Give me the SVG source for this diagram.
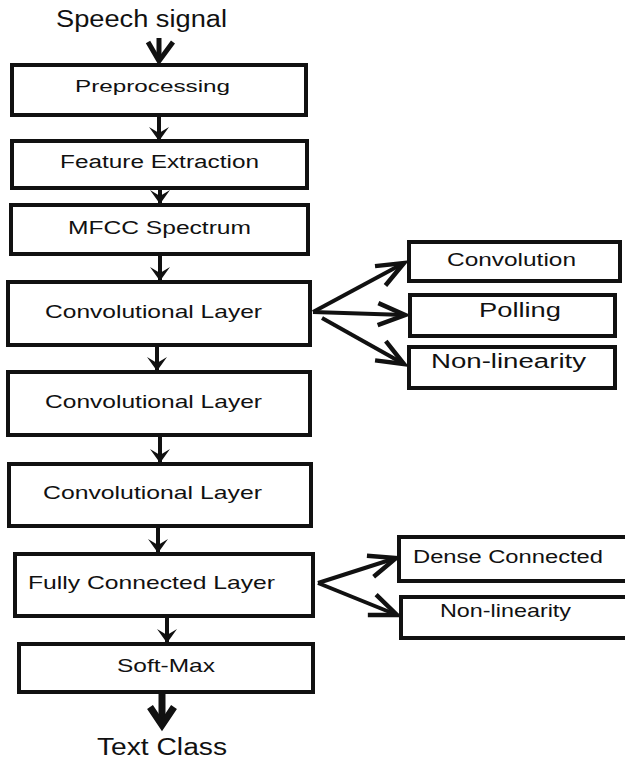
<svg xmlns="http://www.w3.org/2000/svg" width="625" height="760" viewBox="0 0 625 760">
<style>
.box{fill:#fff;stroke:#111;stroke-width:4}
.t{font-family:"Liberation Sans",Arial,sans-serif;fill:#111}
.c{stroke:#111;stroke-width:4;fill:none}
.big{stroke:#111;fill:none;stroke-linejoin:miter}
</style>
<defs>
<marker id="fill" markerUnits="userSpaceOnUse" viewBox="-16 -12 18 24" refX="0" refY="0" markerWidth="18" markerHeight="24" orient="auto">
<path d="M-14,-10 L0,0 L-14,10 L-8,0 z" fill="#111"/>
</marker>
<marker id="open" markerUnits="userSpaceOnUse" viewBox="-32 -14 36 28" refX="0" refY="0" markerWidth="36" markerHeight="28" orient="auto">
<path d="M-27,-11 L0,0 L-27,11" fill="none" stroke="#111" stroke-width="4.5"/>
</marker>
</defs>
<rect width="625" height="760" fill="#fff"/>
<text class="t" x="56" y="27" font-size="23" textLength="171" lengthAdjust="spacingAndGlyphs">Speech signal</text>
<text class="t" x="97" y="755" font-size="23" textLength="130" lengthAdjust="spacingAndGlyphs">Text Class</text>

<g id="node-preprocessing">
<rect class="box" x="12" y="65" width="294" height="50"/>
<text class="t" x="75" y="92" font-size="17" textLength="155" lengthAdjust="spacingAndGlyphs">Preprocessing</text>
</g>
<g id="node-feature">
<rect class="box" x="12" y="141" width="295" height="47"/>
<text class="t" x="60" y="168" font-size="18" textLength="199" lengthAdjust="spacingAndGlyphs">Feature Extraction</text>
</g>
<g id="node-mfcc">
<rect class="box" x="11" y="205" width="297" height="49"/>
<text class="t" x="68" y="234" font-size="18" textLength="183" lengthAdjust="spacingAndGlyphs">MFCC Spectrum</text>
</g>
<g id="node-conv1">
<rect class="box" x="8" y="282" width="302" height="63"/>
<text class="t" x="45" y="318" font-size="19" textLength="217" lengthAdjust="spacingAndGlyphs">Convolutional Layer</text>
</g>
<g id="node-conv2">
<rect class="box" x="8" y="372" width="302" height="63"/>
<text class="t" x="45" y="408" font-size="19" textLength="217" lengthAdjust="spacingAndGlyphs">Convolutional Layer</text>
</g>
<g id="node-conv3">
<rect class="box" x="9" y="464" width="302" height="62"/>
<text class="t" x="43" y="499" font-size="19" textLength="219" lengthAdjust="spacingAndGlyphs">Convolutional Layer</text>
</g>
<g id="node-fc">
<rect class="box" x="15" y="554" width="298" height="62"/>
<text class="t" x="28" y="589" font-size="19" textLength="247" lengthAdjust="spacingAndGlyphs">Fully Connected Layer</text>
</g>
<g id="node-softmax">
<rect class="box" x="19" y="644" width="294" height="48"/>
<text class="t" x="117" y="672" font-size="19" textLength="98" lengthAdjust="spacingAndGlyphs">Soft-Max</text>
</g>
<g id="node-convolution">
<rect class="box" x="409" y="242" width="211" height="39"/>
<text class="t" x="447" y="266" font-size="19" textLength="129" lengthAdjust="spacingAndGlyphs">Convolution</text>
</g>
<g id="node-polling">
<rect class="box" x="410" y="295" width="205" height="41"/>
<text class="t" x="479" y="317" font-size="20" textLength="82" lengthAdjust="spacingAndGlyphs">Polling</text>
</g>
<g id="node-nonlin1">
<rect class="box" x="409" y="347" width="206" height="41"/>
<text class="t" x="431" y="368" font-size="20" textLength="155" lengthAdjust="spacingAndGlyphs">Non-linearity</text>
</g>
<g id="node-dense">
<rect class="box" x="399" y="537" width="232" height="44"/>
<text class="t" x="413" y="563" font-size="18" textLength="190" lengthAdjust="spacingAndGlyphs">Dense Connected</text>
</g>
<g id="node-nonlin2">
<rect class="box" x="401" y="597" width="232" height="41"/>
<text class="t" x="440" y="617" font-size="19" textLength="131" lengthAdjust="spacingAndGlyphs">Non-linearity</text>
</g>

<g id="connectors">
<line class="big" x1="159" y1="38" x2="159" y2="60" stroke-width="5"/>
<path class="big" d="M148,42 L159,61 L173,42" stroke-width="5"/>
<line class="c" x1="159" y1="117" x2="159" y2="141" marker-end="url(#fill)"/>
<line class="c" x1="160" y1="188" x2="160" y2="204" marker-end="url(#fill)"/>
<line class="c" x1="160" y1="256" x2="160" y2="281" marker-end="url(#fill)"/>
<line class="c" x1="157" y1="347" x2="157" y2="371" marker-end="url(#fill)"/>
<line class="c" x1="160" y1="437" x2="160" y2="463" marker-end="url(#fill)"/>
<line class="c" x1="158" y1="528" x2="158" y2="553" marker-end="url(#fill)"/>
<line class="c" x1="167" y1="618" x2="167" y2="643" marker-end="url(#fill)"/>
<line class="big" x1="162" y1="694" x2="162" y2="724" stroke-width="7"/>
<path class="big" d="M150,707 L162,725 L174,707" stroke-width="7"/>
<line class="c" x1="313" y1="312" x2="404" y2="263" marker-end="url(#open)"/>
<line class="c" x1="313" y1="312" x2="405" y2="315" marker-end="url(#open)"/>
<line class="c" x1="322" y1="318" x2="404" y2="364" marker-end="url(#open)"/>
<line class="c" x1="318" y1="583" x2="396" y2="558" marker-end="url(#open)"/>
<line class="c" x1="318" y1="583" x2="397" y2="615" marker-end="url(#open)"/>
</g>
</svg>
